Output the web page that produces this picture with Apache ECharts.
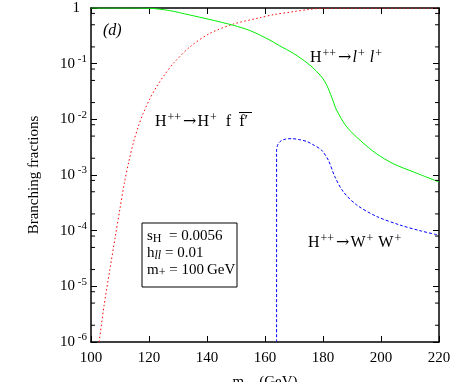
<!DOCTYPE html>
<html>
<head>
<meta charset="utf-8">
<script src="https://cdn.jsdelivr.net/npm/echarts@6/dist/echarts.min.js"></script>
<style>
  html, body { margin: 0; padding: 0; background: #fff; }
  #chart { width: 463px; height: 382px; }
</style>
</head>
<body>
<div id="chart"></div>
<script>
// H++ -> l+ l+
const massLL = [100, 110, 120, 127, 134, 141, 149, 155, 161.7, 165, 169.8, 175.5, 179.5, 181.3, 183, 184.7, 188.2, 192.8, 198.5, 204.2, 211.1, 220];
const brLL = [1, 1, 0.99, 0.9, 0.75, 0.62, 0.49, 0.39, 0.265, 0.21, 0.153, 0.094, 0.058, 0.041, 0.025, 0.0146, 0.0073, 0.0042, 0.0024, 0.0016, 0.00114, 0.00075];

// H++ -> H+ f f'
const massFF = [102.8, 104.5, 106.5, 108.3, 110, 111.5, 113, 114.6, 116.3, 118, 120.3, 122.6, 125.5, 128.4, 134.1, 141, 149.1, 158.3, 163, 169.8, 175, 180, 190, 220];
const brFF = [1e-6, 4.5e-6, 2.0e-5, 7.4e-5, 2.5e-4, 7.1e-4, 1.7e-3, 3.8e-3, 7.4e-3, 0.0128, 0.0234, 0.0385, 0.0646, 0.101, 0.20, 0.35, 0.515, 0.67, 0.76, 0.86, 0.94, 0.99, 0.995, 1];

// H++ -> W+ W+
const massWW = [164, 164, 164.5, 165.5, 167, 169.2, 172, 174.4, 177, 179.5, 181.8, 184.1, 187, 191.6, 198.5, 206.6, 213.4, 220];
const brWW = [1e-6, 0.0028, 0.0036, 0.0041, 0.0044, 0.0045, 0.0043, 0.0040, 0.0034, 0.0028, 0.00186, 0.00093, 0.0005, 0.00029, 0.00018, 0.000126, 0.0001, 0.000083];

// minor ticks on the log axis (0.8, 0.5, 0.2 of each decade)
const yMinor = [0.8, 0.5, 0.2, 0.08, 0.05, 0.02, 0.008, 0.005, 0.002, 8e-4, 5e-4, 2e-4, 8e-5, 5e-5, 2e-5, 8e-6, 5e-6, 2e-6];

const FONT = "Liberation Serif";
const X_MIN = 100, X_MAX = 220;

const pair = (xs, ys) => xs.map((x, i) => [x, ys[i]]);

function yLabel(v) {
  const n = Math.round(Math.log10(v));
  if (n === 0) return "{one|1}";
  return "10{sup| " + n + "}";
}

function yAxisBase(pos, labels) {
  return {
    type: "log",
    logBase: 10,
    min: 1e-6,
    max: 1,
    position: pos,
    axisLine: { show: true, lineStyle: { color: "#000", width: 1.5 } },
    axisTick: { show: true, inside: true, length: 6, lineStyle: { color: "#000", width: 1 } },
    axisLabel: labels ? {
      show: true,
      formatter: yLabel,
      fontFamily: FONT, fontSize: 15, color: "#000", lineHeight: 20, margin: 4,
      rich: {
        sup: { fontFamily: FONT, fontSize: 11, lineHeight: 11, verticalAlign: "top", color: "#000" },
        one: { fontFamily: FONT, fontSize: 15, color: "#000", padding: [0, 7, 0, 0] }
      }
    } : { show: false },
    splitLine: { show: false }
  };
}

const xAxisBase = (pos, labels) => ({
  type: "value",
  min: X_MIN,
  max: X_MAX,
  interval: 20,
  position: pos,
  axisLine: { show: true, lineStyle: { color: "#000", width: 1.5 } },
  axisTick: { show: true, inside: true, length: 6, lineStyle: { color: "#000" } },
  axisLabel: labels ? { show: true, fontFamily: FONT, fontSize: 15, color: "#000", margin: 9 } : { show: false },
  splitLine: { show: false }
});

const yAxes = [yAxisBase("left", true), yAxisBase("right", false)];
yAxes[0].name = "Branching fractions";
yAxes[0].nameLocation = "middle";
yAxes[0].nameGap = 49;
yAxes[0].nameTextStyle = { fontFamily: FONT, fontSize: 15, color: "#000" };

const xAxes = [xAxisBase("bottom", true), xAxisBase("top", false)];
xAxes[0].name = "m{sub|++} (GeV)";
xAxes[0].nameLocation = "middle";
xAxes[0].nameGap = 33;
xAxes[0].nameTextStyle = {
  fontFamily: FONT, fontSize: 15, color: "#000",
  rich: { sub: { fontFamily: FONT, fontSize: 10, verticalAlign: "bottom", lineHeight: 8 } }
};

const richText = {
  sup: { fontFamily: FONT, fontSize: 12, lineHeight: 12, verticalAlign: "top", fill: "#000", padding: [0, 1, 0, 1] },
  sub: { fontFamily: FONT, fontSize: 12, lineHeight: 12, verticalAlign: "bottom", fill: "#000" },
  subi: { fontFamily: FONT, fontSize: 12, fontStyle: "italic", lineHeight: 12, verticalAlign: "bottom", fill: "#000" },
  it: { fontFamily: FONT, fontSize: 16, fontStyle: "italic", fill: "#000" },
  arr: { fontFamily: "DejaVu Serif", fontSize: 16, fill: "#000", padding: [0, 1, 0, 1] }
};

function label(x, y, text) {
  return {
    type: "text", left: x, top: y, z: 100,
    style: { text, fontFamily: FONT, fontSize: 16, lineHeight: 20, fill: "#000", rich: richText }
  };
}

const chart = echarts.init(document.getElementById("chart"));

chart.setOption({
  animation: false,
  backgroundColor: "#fff",
  grid: { left: 91, right: 24, top: 8, bottom: 40, outerBoundsMode: "none" },
  xAxis: xAxes,
  yAxis: yAxes,
  series: [
    {
      name: "ll", type: "line", data: pair(massLL, brLL), showSymbol: false, smooth: 0.3,
      lineStyle: { color: "#00ee00", width: 1 }, z: 3
    },
    {
      name: "ff", type: "line", data: pair(massFF, brFF), showSymbol: false, smooth: 0.3,
      lineStyle: { color: "#ff0000", width: 1, type: [1.5, 2.5] }, z: 2
    },
    {
      name: "WW", type: "line", data: pair(massWW, brWW), showSymbol: false, smooth: 0.3,
      lineStyle: { color: "#0000ff", width: 1, type: [3, 2] }, z: 2
    },
    {
      // minor ticks, placed through the axis scale
      name: "minorTicks", type: "custom", silent: true, z: 5,
      data: yMinor.map(v => [X_MIN, v]),
      renderItem: (params, api) => {
        const l = api.coord([X_MIN, api.value(1)]);
        const r = api.coord([X_MAX, api.value(1)]);
        return {
          type: "group",
          children: [
            { type: "line", shape: { x1: l[0], y1: l[1], x2: l[0] + 4, y2: l[1] }, style: { stroke: "#000", lineWidth: 1 } },
            { type: "line", shape: { x1: r[0] - 4, y1: r[1], x2: r[0], y2: r[1] }, style: { stroke: "#000", lineWidth: 1 } }
          ]
        };
      }
    }
  ],
  graphic: [
    { type: "text", left: 103, top: 23, style: { text: "(d)", fontFamily: FONT, fontSize: 16, fontStyle: "italic", fill: "#000" } },
    label(155, 112, "H{sup|++}{arr|\u2192}H{sup|+}  f  f\u2032"),
    { type: "line", shape: { x1: 239, y1: 112.5, x2: 252, y2: 112.5 }, style: { stroke: "#000", lineWidth: 1 } },
    label(310, 48, "H{sup|++}{arr|\u2192}{it|l}{sup|+} {it|l}{sup|+}"),
    label(308, 233, "H{sup|++}{arr|\u2192}W{sup|+} W{sup|+}"),
    { type: "rect", shape: { x: 142, y: 223, width: 95, height: 64 }, style: { fill: "none", stroke: "#000", lineWidth: 1 } },
    {
      type: "text", left: 147, top: 228, z: 100,
      style: {
        text: "s{sub|H}  = 0.0056\nh{subi|ll} = 0.01\nm{sub|+} = 100\u2009GeV",
        fontFamily: FONT, fontSize: 15, lineHeight: 17, fill: "#000", rich: richText
      }
    }
  ]
});
</script>
</body>
</html>
